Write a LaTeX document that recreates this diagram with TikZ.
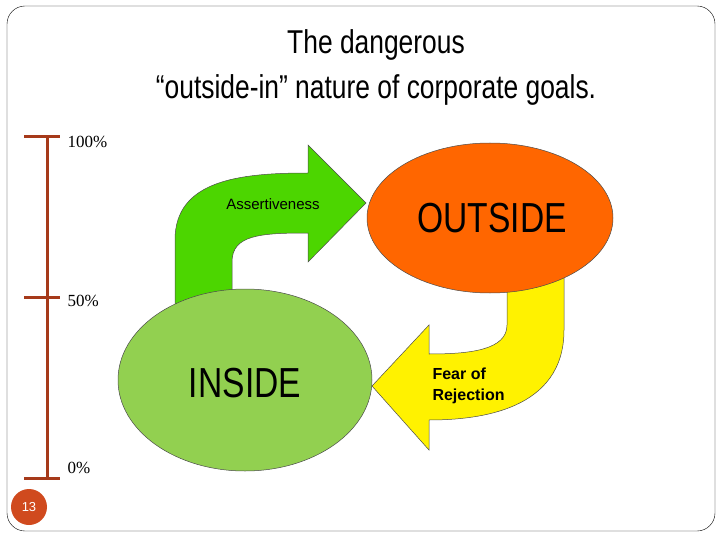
\documentclass[tikz,border=0pt]{standalone}
\usepackage{fontspec}
\setmainfont{Liberation Sans}
\newfontfamily\narrowf[FakeStretch=0.8]{Liberation Sans}
\newfontfamily\serf{Liberation Serif}
\definecolor{bar}{HTML}{A63A1A}
\definecolor{gr}{HTML}{4CD600}
\definecolor{ins}{HTML}{92D050}
\definecolor{outc}{HTML}{FF6600}
\definecolor{pg}{HTML}{D04A1E}
\tikzset{pct/.style={anchor=west,font=\serf\fontsize{17}{17}\selectfont},
 tick/.style={draw=bar,line width=3pt}}
\begin{document}
\begin{tikzpicture}[x=1pt,y=-1pt]
\useasboundingbox (0,0) rectangle (720,540);
\draw[rounded corners=18pt] (7,6) rectangle (715,531);
\node[font=\narrowf\fontsize{33}{45}\selectfont,align=center] (title) at (376,67) {The dangerous\\“outside-in” nature of corporate goals.};
% scale
\coordinate (t) at (47,137); \coordinate (m) at (47,297); \coordinate (b) at (47,478);
\draw[tick] (t) -- (b);
\draw[tick] (24,137) -- (60,137);
\draw[tick] (24,297) -- (60,297);
\draw[tick] (24,478) -- (60,478);
\node[pct] (p100) at (64,142) {100\%};
\node[pct] (p50) at (64,301) {50\%};
\node[pct] (p0) at (64,468) {0\%};
\node[circle,fill=pg,minimum size=36pt,inner sep=0pt,text=white,font=\fontsize{13}{13}\selectfont] (pg) at (29,507) {13};
% green arrow
\filldraw[fill=gr,draw=black!70,line width=0.5pt] (175,310) -- (175,240) .. controls (175,180) and (240,173) .. (308,173)
 -- (308,145) -- (366,203) -- (308,262) -- (308,233) .. controls (260,233) and (232,235) .. (232,262) -- (232,310) -- cycle;
\node[font=\fontsize{15}{15}\selectfont] (as) at (273,204) {Assertiveness};
% yellow arrow
\filldraw[fill=yellow,draw=black!70,line width=0.5pt] (564,270) -- (564,330) .. controls (564,410) and (480,420) .. (429,420)
 -- (429,450) -- (372,386) -- (429,325) -- (429,354) .. controls (470,354) and (507,350) .. (507,325) -- (507,270) -- cycle;
\node[font=\bfseries\fontsize{16}{21}\selectfont,align=left,anchor=west] (fr) at (429,386) {Fear of\\Rejection};
% ellipses
\filldraw[fill=ins,draw=black!70,line width=0.5pt] (245,380) ellipse [x radius=127,y radius=91];
\node[font=\narrowf\fontsize{42}{42}\selectfont] (in) at (245,383) {INSIDE};
\filldraw[fill=outc,draw=black!70,line width=0.5pt] (490,218) ellipse [x radius=123,y radius=75];
\node[font=\narrowf\fontsize{42}{42}\selectfont] (out) at (492,218) {OUTSIDE};
\end{tikzpicture}
\end{document}
